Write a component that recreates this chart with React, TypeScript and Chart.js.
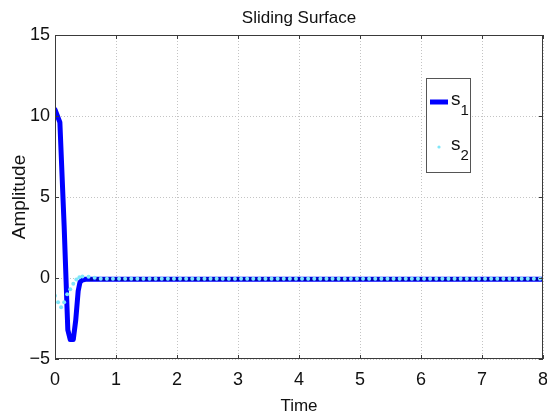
import React, { useEffect, useRef } from "react";
import { Chart, registerables } from "chart.js";

Chart.register(...registerables);

// s1: sliding surface 1 (thick blue line)
const s1Time = [
  0, 0.03, 0.08, 0.15, 0.21, 0.25, 0.3, 0.34, 0.38, 0.41, 0.45, 0.5,
  0.6, 0.7, 0.8, 0.9, 1.0, 1.1, 1.2, 1.3, 1.4, 1.5, 1.6, 1.7, 1.8, 1.9,
  2.0, 2.1, 2.2, 2.3, 2.4, 2.5, 2.6, 2.7, 2.8, 2.9, 3.0, 3.1, 3.2, 3.3,
  3.4, 3.5, 3.6, 3.7, 3.8, 3.9, 4.0, 4.1, 4.2, 4.3, 4.4, 4.5, 4.6, 4.7,
  4.8, 4.9, 5.0, 5.1, 5.2, 5.3, 5.4, 5.5, 5.6, 5.7, 5.8, 5.9, 6.0, 6.1,
  6.2, 6.3, 6.4, 6.5, 6.6, 6.7, 6.8, 6.9, 7.0, 7.1, 7.2, 7.3, 7.4, 7.5,
  7.6, 7.7, 7.8, 7.9, 8.0,
];
const s1Values = [
  10.4, 10.1, 9.6, 3.2, -3.2, -3.8, -3.8, -2.6, -0.8, -0.25, -0.12, -0.08,
  -0.08, -0.08, -0.08, -0.08, -0.08, -0.08, -0.08, -0.08, -0.08, -0.08, -0.08, -0.08, -0.08, -0.08,
  -0.08, -0.08, -0.08, -0.08, -0.08, -0.08, -0.08, -0.08, -0.08, -0.08, -0.08, -0.08, -0.08, -0.08,
  -0.08, -0.08, -0.08, -0.08, -0.08, -0.08, -0.08, -0.08, -0.08, -0.08, -0.08, -0.08, -0.08, -0.08,
  -0.08, -0.08, -0.08, -0.08, -0.08, -0.08, -0.08, -0.08, -0.08, -0.08, -0.08, -0.08, -0.08, -0.08,
  -0.08, -0.08, -0.08, -0.08, -0.08, -0.08, -0.08, -0.08, -0.08, -0.08, -0.08, -0.08, -0.08, -0.08,
  -0.08, -0.08, -0.08, -0.08, -0.08,
];

// s2: sliding surface 2 (cyan dot markers)
const s2Time = [
  0, 0.05, 0.1, 0.15, 0.2, 0.25, 0.3, 0.35, 0.4, 0.45, 0.55, 0.65,
  0.75, 0.85, 0.95, 1.05, 1.15, 1.25, 1.35, 1.45, 1.55, 1.65, 1.75, 1.85,
  1.95, 2.05, 2.15, 2.25, 2.35, 2.45, 2.55, 2.65, 2.75, 2.85, 2.95, 3.05,
  3.15, 3.25, 3.35, 3.45, 3.55, 3.65, 3.75, 3.85, 3.95, 4.05, 4.15, 4.25,
  4.35, 4.45, 4.55, 4.65, 4.75, 4.85, 4.95, 5.05, 5.15, 5.25, 5.35, 5.45,
  5.55, 5.65, 5.75, 5.85, 5.95, 6.05, 6.15, 6.25, 6.35, 6.45, 6.55, 6.65,
  6.75, 6.85, 6.95, 7.05, 7.15, 7.25, 7.35, 7.45, 7.55, 7.65, 7.75, 7.85,
  7.95,
];
const s2Values = [
  -1.1, -1.5, -1.8, -1.5, -1.0, -0.7, -0.35, -0.1, 0.05, 0.1, 0.08, 0.02,
  -0.04, -0.04, -0.04, -0.04, -0.04, -0.04, -0.04, -0.04, -0.04, -0.04, -0.04, -0.04,
  -0.04, -0.04, -0.04, -0.04, -0.04, -0.04, -0.04, -0.04, -0.04, -0.04, -0.04, -0.04,
  -0.04, -0.04, -0.04, -0.04, -0.04, -0.04, -0.04, -0.04, -0.04, -0.04, -0.04, -0.04,
  -0.04, -0.04, -0.04, -0.04, -0.04, -0.04, -0.04, -0.04, -0.04, -0.04, -0.04, -0.04,
  -0.04, -0.04, -0.04, -0.04, -0.04, -0.04, -0.04, -0.04, -0.04, -0.04, -0.04, -0.04,
  -0.04, -0.04, -0.04, -0.04, -0.04, -0.04, -0.04, -0.04, -0.04, -0.04, -0.04, -0.04,
  -0.04,
];

const xTicks = [0, 1, 2, 3, 4, 5, 6, 7, 8];
const yTicks = [-5, 0, 5, 10, 15];
const chartTitle = "Sliding Surface";
const legendLabels = [
  { base: "s", sub: "1" },
  { base: "s", sub: "2" },
];

const SANS = "'Liberation Sans', Arial, Helvetica, sans-serif";
const BLUE = "#0000ff";
const CYAN = "#80e6f8";

// Title centred over the plot area
const titlePlugin = {
  id: "plotTitle",
  afterDraw(chart: any) {
    const { ctx, chartArea: a } = chart;
    ctx.save();
    ctx.fillStyle = "#111";
    ctx.font = `17px ${SANS}`;
    ctx.textAlign = "center";
    ctx.textBaseline = "middle";
    ctx.fillText(chartTitle, (a.left + a.right) / 2, a.top - 17);
    ctx.restore();
  },
};

// Axes box with inward tick marks
const boxPlugin = {
  id: "axesBox",
  afterDatasetsDraw(chart: any) {
    const { ctx, chartArea: a, scales } = chart;
    ctx.save();
    ctx.strokeStyle = "#3a3a3a";
    ctx.lineWidth = 1;
    ctx.strokeRect(a.left + 0.5, a.top + 0.5, a.right - a.left - 1, a.bottom - a.top - 1);
    ctx.beginPath();
    const len = 4;
    for (const v of xTicks) {
      const x = Math.round(scales.x.getPixelForValue(v)) + 0.5;
      ctx.moveTo(x, a.bottom);
      ctx.lineTo(x, a.bottom - len);
      ctx.moveTo(x, a.top);
      ctx.lineTo(x, a.top + len);
    }
    for (const v of yTicks) {
      const y = Math.round(scales.y.getPixelForValue(v)) + 0.5;
      ctx.moveTo(a.left, y);
      ctx.lineTo(a.left + len, y);
      ctx.moveTo(a.right, y);
      ctx.lineTo(a.right - len, y);
    }
    ctx.stroke();
    ctx.restore();
  },
};

// Legend box with subscripted labels
const legendPlugin = {
  id: "subLegend",
  afterDraw(chart: any) {
    const { ctx, chartArea: a } = chart;
    const left = a.left + 371;
    const top = a.top + 43;
    const w = 44;
    const h = 94;
    ctx.save();
    ctx.fillStyle = "#ffffff";
    ctx.fillRect(left, top, w, h);
    ctx.strokeStyle = "#555";
    ctx.lineWidth = 1;
    ctx.strokeRect(left + 0.5, top + 0.5, w, h);

    // s1 sample line
    ctx.strokeStyle = BLUE;
    ctx.lineWidth = 5;
    ctx.beginPath();
    ctx.moveTo(left + 4, top + 24);
    ctx.lineTo(left + 22, top + 24);
    ctx.stroke();

    // s2 sample dot
    ctx.fillStyle = CYAN;
    ctx.beginPath();
    ctx.arc(left + 13, top + 69, 1.6, 0, Math.PI * 2);
    ctx.fill();

    ctx.fillStyle = "#111";
    ctx.textBaseline = "alphabetic";
    ctx.textAlign = "left";
    const rows = [top + 27, top + 72];
    legendLabels.forEach((lab, i) => {
      ctx.font = `19px ${SANS}`;
      ctx.fillText(lab.base, left + 25, rows[i]);
      const bw = ctx.measureText(lab.base).width;
      ctx.font = `15px ${SANS}`;
      ctx.fillText(lab.sub, left + 25 + bw, rows[i] + 10);
    });
    ctx.restore();
  },
};

export default function App() {
  const ref = useRef<HTMLCanvasElement | null>(null);

  useEffect(() => {
    document.body.style.margin = "0";
    const canvas = ref.current;
    if (!canvas) return;
    const chart = new Chart(canvas, {
      type: "line",
      data: {
        datasets: [
          {
            label: "s1",
            data: s1Time.map((t, i) => ({ x: t, y: s1Values[i] })),
            borderColor: BLUE,
            backgroundColor: BLUE,
            borderWidth: 5,
            borderJoinStyle: "round",
            borderCapStyle: "round",
            tension: 0,
            order: 1,
            pointRadius: (c: any) => (c.raw && c.raw.x >= 0.6 ? 2.4 : 0),
            pointStyle: "rect",
            pointBackgroundColor: "#0000b4",
            pointBorderWidth: 0,
          },
          {
            label: "s2",
            data: s2Time.map((t, i) => ({ x: t, y: s2Values[i] })),
            showLine: false,
            order: 0,
            borderColor: CYAN,
            backgroundColor: CYAN,
            pointRadius: 2,
            pointBorderWidth: 0,
          },
        ],
      },
      options: {
        animation: false,
        responsive: false,
        layout: { padding: { right: 3, left: 0, top: 35, bottom: 0 } },
        plugins: {
          legend: { display: false },
          tooltip: { enabled: false },
          title: { display: false },
        },
        scales: {
          x: {
            type: "linear",
            min: 0,
            max: 8,
            afterBuildTicks: (s: any) => {
              s.ticks = xTicks.map((v) => ({ value: v }));
            },
            afterFit: (s: any) => {
              s.height = 56;
              s.paddingLeft = 0;
              s.paddingRight = 0;
            },
            grid: { color: "#c4c4c4", drawTicks: false, lineWidth: 1 },
            border: { display: false, dash: [1, 2] },
            ticks: {
              padding: 10,
              color: "#111",
              maxRotation: 0,
              font: { family: SANS, size: 18 },
            },
            title: {
              display: true,
              text: "Time",
              color: "#111",
              font: { family: SANS, size: 17, lineHeight: 1 },
              padding: { top: 0, bottom: 0 },
            },
          },
          y: {
            type: "linear",
            min: -5,
            max: 15,
            afterBuildTicks: (s: any) => {
              s.ticks = yTicks.map((v) => ({ value: v }));
            },
            afterFit: (s: any) => {
              s.width = 55;
              s.paddingTop = 0;
              s.paddingBottom = 0;
            },
            grid: { color: "#c4c4c4", drawTicks: false, lineWidth: 1 },
            border: { display: false, dash: [1, 2] },
            ticks: {
              padding: 5,
              color: "#111",
              font: { family: SANS, size: 18 },
              callback: (v: any) => (Number(v) < 0 ? "\u2212" + Math.abs(Number(v)) : String(v)),
            },
            title: {
              display: true,
              text: "Amplitude",
              color: "#111",
              font: { family: SANS, size: 19, lineHeight: 1.2 },
              padding: { top: 8, bottom: 0 },
            },
          },
        },
      },
      plugins: [boxPlugin, legendPlugin, titlePlugin],
    });
    return () => chart.destroy();
  }, []);

  return (
    <div style={{ width: 547, height: 415, background: "#fff" }}>
      <canvas ref={ref} width={547} height={415} style={{ display: "block" }} />
    </div>
  );
}
